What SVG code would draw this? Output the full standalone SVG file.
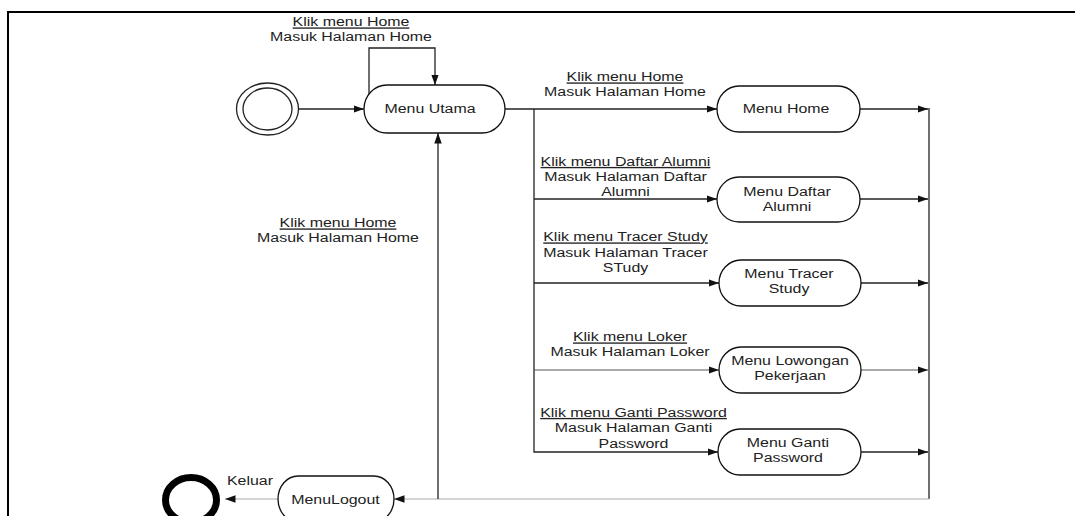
<svg xmlns="http://www.w3.org/2000/svg" width="1075" height="516" viewBox="0 0 1075 516">
<style>
text{font-family:"Liberation Sans",Arial,sans-serif;font-size:13.5px;fill:#222;text-anchor:middle}
.u{text-decoration:underline}
.l{text-anchor:start}
.node rect{fill:#fff;stroke:#111;stroke-width:1.3}
.c line,.c path,.c polyline{fill:none;stroke:#222;stroke-width:1.3}
.c .g{stroke:#aaa;stroke-width:1.2}
</style>
<defs>
<marker id="a" markerWidth="11" markerHeight="8" refX="10.5" refY="3.75" orient="auto" markerUnits="userSpaceOnUse">
<path d="M0,0 L10.5,3.75 L0,7.5 z" fill="#111"/>
</marker>
</defs>
<rect width="1075" height="516" fill="#fff"/>
<g id="frame">
<polyline points="8,516 8,12 1075,12" fill="none" stroke="#000" stroke-width="2"/>
</g>
<g class="c" id="connectors">
<line x1="298" y1="109" x2="364" y2="109" marker-end="url(#a)"/>
<polyline points="369,95 369,48 435,48 435,85" marker-end="url(#a)"/>
<line x1="505" y1="109" x2="717" y2="109" marker-end="url(#a)"/>
<polyline points="534,109 534,452 718,452" marker-end="url(#a)"/>
<line x1="534" y1="199" x2="717" y2="199" marker-end="url(#a)"/>
<line x1="534" y1="283" x2="719" y2="283" marker-end="url(#a)"/>
<line x1="534" y1="370" x2="719" y2="370" marker-end="url(#a)" style="stroke:#555;stroke-width:1"/>
<line x1="860" y1="109" x2="928" y2="109" marker-end="url(#a)"/>
<line x1="860" y1="199" x2="928" y2="199" marker-end="url(#a)"/>
<line x1="861" y1="283" x2="928" y2="283" marker-end="url(#a)"/>
<line x1="861" y1="370" x2="928" y2="370" marker-end="url(#a)" style="stroke:#555;stroke-width:1"/>
<line x1="861" y1="452" x2="928" y2="452" marker-end="url(#a)"/>
<line x1="929" y1="108" x2="929" y2="499"/>
<line class="g" x1="929" y1="499" x2="394" y2="499" marker-end="url(#a)"/>
<line x1="438" y1="499" x2="438" y2="133" marker-end="url(#a)"/>
<line class="g" x1="278" y1="499" x2="225" y2="499" marker-end="url(#a)"/>
</g>
<g id="labels">
<text class="u" transform="translate(351 0) scale(1.18 1)" x="0" y="26.5">Klik menu Home</text>
<text transform="translate(351 0) scale(1.18 1)" x="0" y="41.5">Masuk Halaman Home</text>
<text class="u" transform="translate(338 0) scale(1.18 1)" x="0" y="227.5">Klik menu Home</text>
<text transform="translate(338 0) scale(1.18 1)" x="0" y="242.5">Masuk Halaman Home</text>
<text class="u" transform="translate(625 0) scale(1.18 1)" x="0" y="81.5">Klik menu Home</text>
<text transform="translate(625 0) scale(1.18 1)" x="0" y="96">Masuk Halaman Home</text>
<text class="u" transform="translate(625.5 0) scale(1.18 1)" x="0" y="166">Klik menu Daftar Alumni</text>
<text transform="translate(625.5 0) scale(1.18 1)" x="0" y="181.5">Masuk Halaman Daftar</text>
<text transform="translate(625.5 0) scale(1.18 1)" x="0" y="196.5">Alumni</text>
<text class="u" transform="translate(625.5 0) scale(1.18 1)" x="0" y="241.5">Klik menu Tracer Study</text>
<text transform="translate(625.5 0) scale(1.18 1)" x="0" y="257">Masuk Halaman Tracer</text>
<text transform="translate(625.5 0) scale(1.18 1)" x="0" y="272.5">STudy</text>
<text class="u" transform="translate(630 0) scale(1.18 1)" x="0" y="341.5">Klik menu Loker</text>
<text transform="translate(630 0) scale(1.18 1)" x="0" y="356.5">Masuk Halaman Loker</text>
<text class="u" transform="translate(633.5 0) scale(1.18 1)" x="0" y="417">Klik menu Ganti Password</text>
<text transform="translate(633.5 0) scale(1.18 1)" x="0" y="432.5">Masuk Halaman Ganti</text>
<text transform="translate(633.5 0) scale(1.18 1)" x="0" y="448">Password</text>
<text class="l" transform="translate(227 0) scale(1.18 1)" x="0" y="485">Keluar</text>
</g>
<g id="start">
<ellipse cx="267.5" cy="109" rx="31" ry="26" fill="#fff" stroke="#222" stroke-width="1.3"/>
<ellipse cx="267.5" cy="109" rx="24.5" ry="21" fill="#fff" stroke="#222" stroke-width="1.3"/>
</g>
<g id="menu-utama" class="node">
<rect x="364" y="85" width="141" height="48" rx="23" ry="24"/>
<text transform="translate(430 0) scale(1.18 1)" x="0" y="113.5">Menu Utama</text>
</g>
<g id="menu-home" class="node">
<rect x="717" y="86" width="143" height="46" rx="22" ry="23"/>
<text transform="translate(786 0) scale(1.18 1)" x="0" y="113">Menu Home</text>
</g>
<g id="menu-daftar" class="node">
<rect x="717" y="177" width="143" height="45" rx="22" ry="22.5"/>
<text transform="translate(787 0) scale(1.18 1)" x="0" y="196.5">Menu Daftar</text>
<text transform="translate(787 0) scale(1.18 1)" x="0" y="211.5">Alumni</text>
</g>
<g id="menu-tracer" class="node">
<rect x="719" y="260" width="142" height="46" rx="22" ry="23"/>
<text transform="translate(789 0) scale(1.18 1)" x="0" y="278.5">Menu Tracer</text>
<text transform="translate(789 0) scale(1.18 1)" x="0" y="293.5">Study</text>
</g>
<g id="menu-lowongan" class="node">
<rect x="719" y="347" width="142" height="46" rx="22" ry="23"/>
<text transform="translate(790 0) scale(1.18 1)" x="0" y="365.5">Menu Lowongan</text>
<text transform="translate(790 0) scale(1.18 1)" x="0" y="380.5">Pekerjaan</text>
</g>
<g id="menu-ganti" class="node">
<rect x="718" y="429" width="143" height="46" rx="22" ry="23"/>
<text transform="translate(788 0) scale(1.18 1)" x="0" y="447.5">Menu Ganti</text>
<text transform="translate(788 0) scale(1.18 1)" x="0" y="462.5">Password</text>
</g>
<g id="menu-logout" class="node">
<rect x="278" y="476" width="116" height="46" rx="20" ry="23"/>
<text transform="translate(335.5 0) scale(1.18 1)" x="0" y="504">MenuLogout</text>
</g>
<g id="end">
<ellipse cx="191" cy="500" rx="25.5" ry="22.5" fill="#fff" stroke="#000" stroke-width="7"/>
</g>
</svg>
